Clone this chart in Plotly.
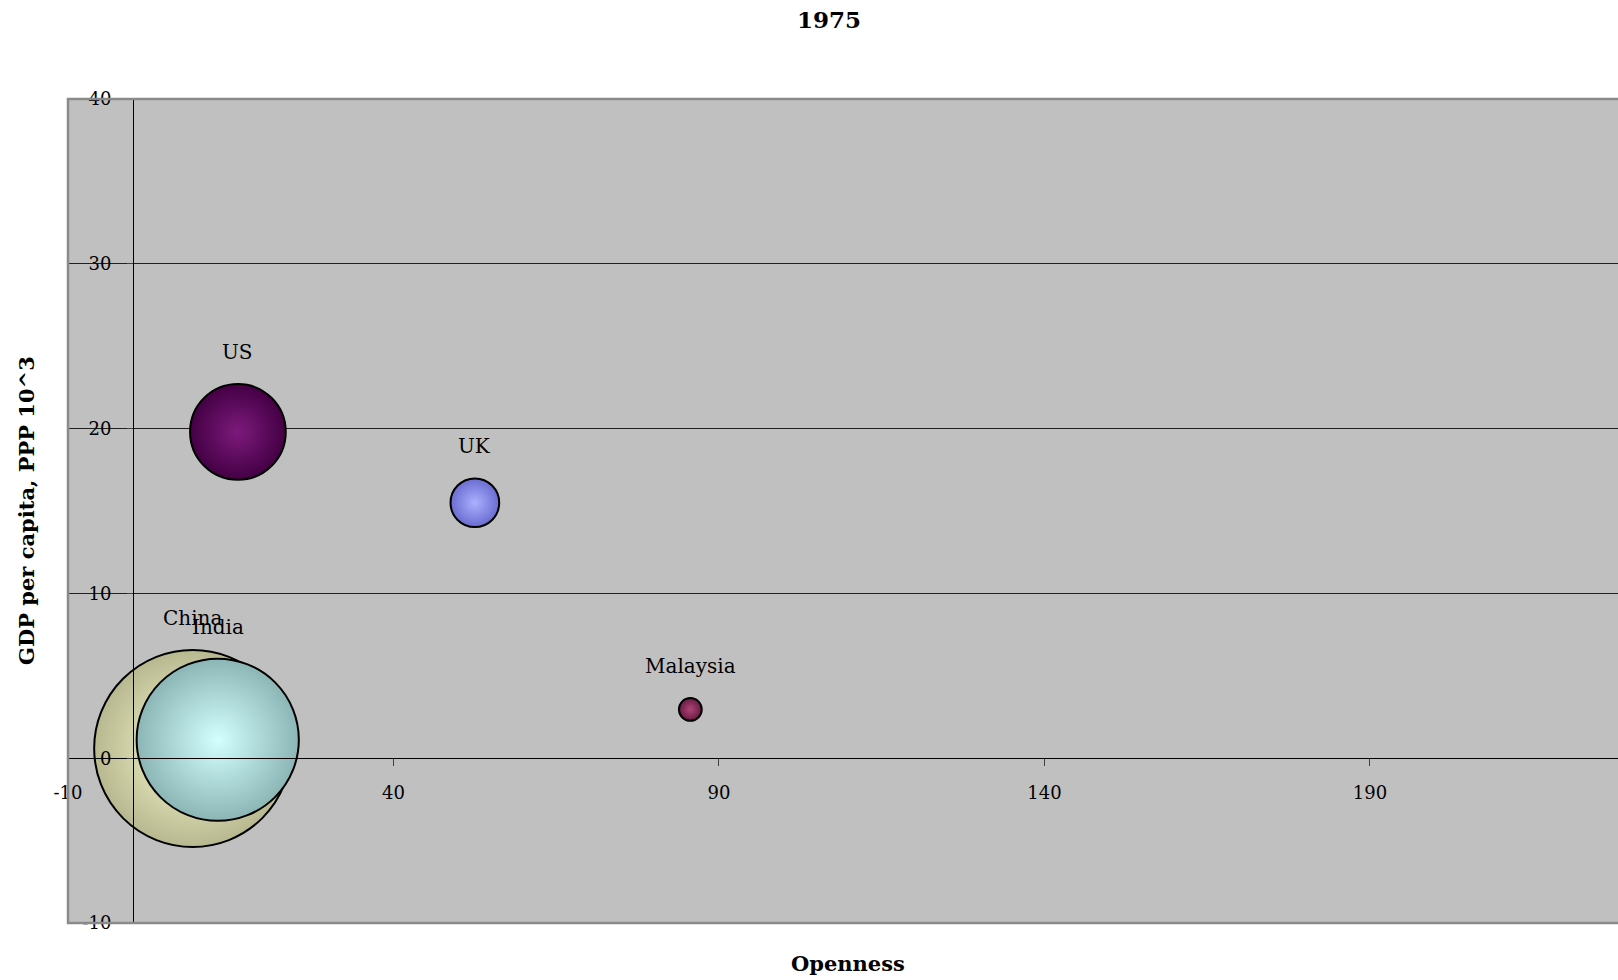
import plotly.graph_objects as go
import math

# ---- data ----
countries = ["China", "India", "US", "UK", "Malaysia"]
openness = [9.15, 13.0, 16.1, 52.5, 85.6]
gdp_pc = [0.59, 1.12, 19.8, 15.5, 2.96]
population = [916, 621, 216, 56, 12.3]
edge_colors = ["#b8b890", "#8cb6b6", "#440044", "#6a6cd0", "#681a42"]
center_colors = ["#ffffd4", "#d4ffff", "#7c1a7c", "#acb0ff", "#ac4676"]

x_tickvals = [-10, 40, 90, 140, 190]
x_ticktext = ["-10", "40", "90", "140", "190"]
y_tickvals = [-10, 0, 10, 20, 30, 40]
y_ticktext = ["-10", "0", "10", "20", "30", "40"]

W, H = 1618, 980
ML, MR, MT, MB = 68, 0, 99, 57
x_range = [-10, 228.1]
y_range = [-10, 40]
LW = 2
D_MAX = 197.0
SIZEREF = 2.0 * max(population) / D_MAX ** 2
FONT = "DejaVu Serif"


def diameter(v):
    return math.sqrt(2.0 * v / SIZEREF)


fig = go.Figure()
for i, c in enumerate(countries):
    fig.add_trace(go.Scatter(
        x=[openness[i]], y=[gdp_pc[i]], mode="markers", name=c,
        marker=dict(size=[population[i]], sizemode="area", sizeref=SIZEREF,
                    color=edge_colors[i], opacity=1,
                    gradient=dict(type="radial", color=center_colors[i]),
                    line=dict(color="black", width=LW)),
        showlegend=False, hoverinfo="text", text=[c]))

annotations = []
for i, c in enumerate(countries):
    r = diameter(population[i]) / 2 + LW / 2
    annotations.append(dict(x=openness[i], y=gdp_pc[i], xref="x", yref="y",
                            text=c, showarrow=False, yshift=r + 31,
                            xanchor="center", yanchor="middle",
                            font=dict(family=FONT, size=20, color="black")))

pw = W - ML - MR
ph = H - MT - MB
annotations.append(dict(text="<b>Openness</b>", xref="paper", yref="paper",
                        x=(848 - ML) / pw, y=(H - MB - 963) / ph,
                        xanchor="center", yanchor="middle", showarrow=False,
                        font=dict(family=FONT, size=21, color="black")))
annotations.append(dict(text="<b>GDP per capita, PPP 10^3</b>", xref="paper", yref="paper",
                        x=(26 - ML) / pw, y=0.5, textangle=-90,
                        xanchor="center", yanchor="middle", showarrow=False,
                        font=dict(family=FONT, size=21, color="black")))

y_axis_pos = (0 - x_range[0]) / (x_range[1] - x_range[0])
x_axis_pos = (0 - y_range[0]) / (y_range[1] - y_range[0])

fig.update_layout(
    width=W, height=H, autosize=False,
    margin=dict(l=ML, r=MR, t=MT, b=MB, pad=0),
    paper_bgcolor="white", plot_bgcolor="#c0c0c0",
    title=dict(text="<b>1975</b>", xref="paper", x=(829 - ML) / pw, xanchor="center",
               yref="container", y=1 - 20 / H, yanchor="middle",
               font=dict(family=FONT, size=23, color="black")),
    xaxis=dict(range=x_range, tickmode="array", tickvals=x_tickvals, ticktext=x_ticktext,
               showgrid=False, zeroline=False, showline=True, linecolor="black", linewidth=1,
               ticks="outside", ticklen=7, tickcolor="#404040", tickwidth=1,
               anchor="free", position=x_axis_pos, ticklabelstandoff=11,
               tickfont=dict(family=FONT, size=18, color="black")),
    yaxis=dict(range=y_range, tickmode="array", tickvals=y_tickvals, ticktext=y_ticktext,
               showgrid=True, gridcolor="#202020", gridwidth=1,
               zeroline=False, showline=True, linecolor="black", linewidth=1,
               ticks="outside", ticklen=6, tickcolor="#404040", tickwidth=1,
               anchor="free", position=y_axis_pos, ticklabelstandoff=12,
               tickfont=dict(family=FONT, size=18, color="black")),
    annotations=annotations,
    shapes=[dict(type="rect", xref="paper", yref="paper", x0=0, y0=0, x1=1.01, y1=1,
                 line=dict(color="#8a8a8a", width=2.5), layer="above")],
)

fig.write_html("out.html", config={"displayModeBar": False},
               post_script="document.body.style.margin='0px';document.body.style.overflow='hidden';")
